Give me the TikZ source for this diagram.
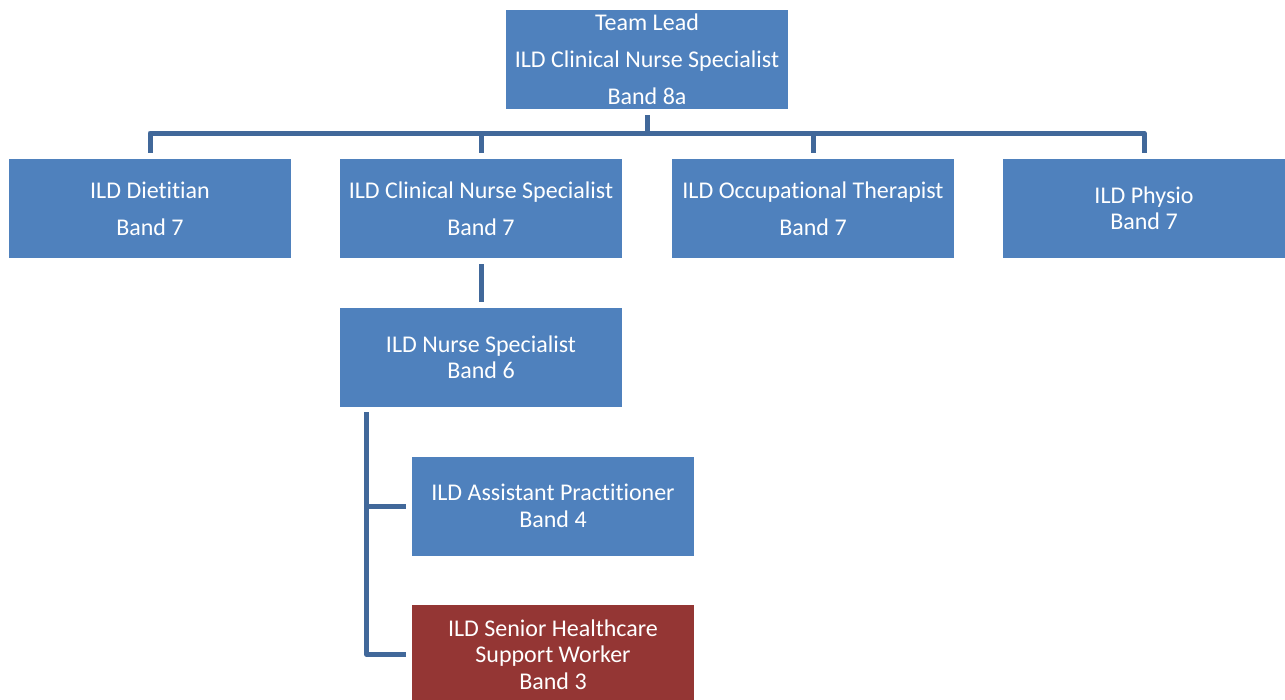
\documentclass[tikz,border=0pt]{standalone}
\usepackage{fontspec}
\setmainfont{Carlito}[Ligatures={NoCommon}]
\definecolor{boxblue}{HTML}{4F81BD}
\definecolor{boxred}{HTML}{943634}
\definecolor{linkblue}{HTML}{41689A}
\begin{document}
\begin{tikzpicture}[x=1pt,y=-1pt,
  box/.style={fill=boxblue, draw=none, minimum width=282pt, minimum height=99pt, inner sep=0pt,
    text=white, align=center, font=\fontsize{24}{28}\selectfont},
  wide/.style={font=\fontsize{24}{37}\selectfont},
  tight/.style={font=\fontsize{24}{26.5}\selectfont},
  conn/.style={draw=linkblue, line width=5pt, line join=round}]
\useasboundingbox (0,0) rectangle (1285,699);
\begin{scope}
\clip (0,0) rectangle (1285,699);
\node[box,wide] (top) at (647,59.5) {Team Lead\\ILD Clinical Nurse Specialist\\Band 8a};
\node[box,wide] (diet) at (150,208.5) {ILD Dietitian\\Band 7};
\node[box,wide] (cns) at (481,208.5) {ILD Clinical Nurse Specialist\\Band 7};
\node[box,wide] (ot) at (813,208.5) {ILD Occupational Therapist\\Band 7};
\node[box,tight] (phys) at (1144,208.5) {ILD Physio\\Band 7};
\node[box,tight] (ns) at (481,357.5) {ILD Nurse Specialist\\Band 6};
\node[box,tight] (asst) at (553,506) {ILD Assistant Practitioner\\Band 4};
\node[box,tight,fill=boxred] (shcw) at (553,654.5) {ILD Senior Healthcare\\Support Worker\\Band 3};
\coordinate (bar) at (647,133);
\draw[conn] ([yshift=-6pt]top.south) -- (top.south |- bar);
\draw[conn] ([yshift=6pt]diet.north) |- (bar) -| ([yshift=6pt]phys.north);
\draw[conn] ([yshift=6pt]cns.north) -- (cns.north |- bar);
\draw[conn] ([yshift=6pt]ot.north) -- (ot.north |- bar);
\draw[conn] ([yshift=-6pt]cns.south) -- ([yshift=6pt]ns.north);
\coordinate (tk) at ([xshift=27pt,yshift=-5pt]ns.south west);
\draw[conn] (tk) |- ([xshift=-6pt]shcw.west);
\draw[conn] (tk |- asst.west) -- ([xshift=-6pt]asst.west);
\end{scope}
\end{tikzpicture}
\end{document}
